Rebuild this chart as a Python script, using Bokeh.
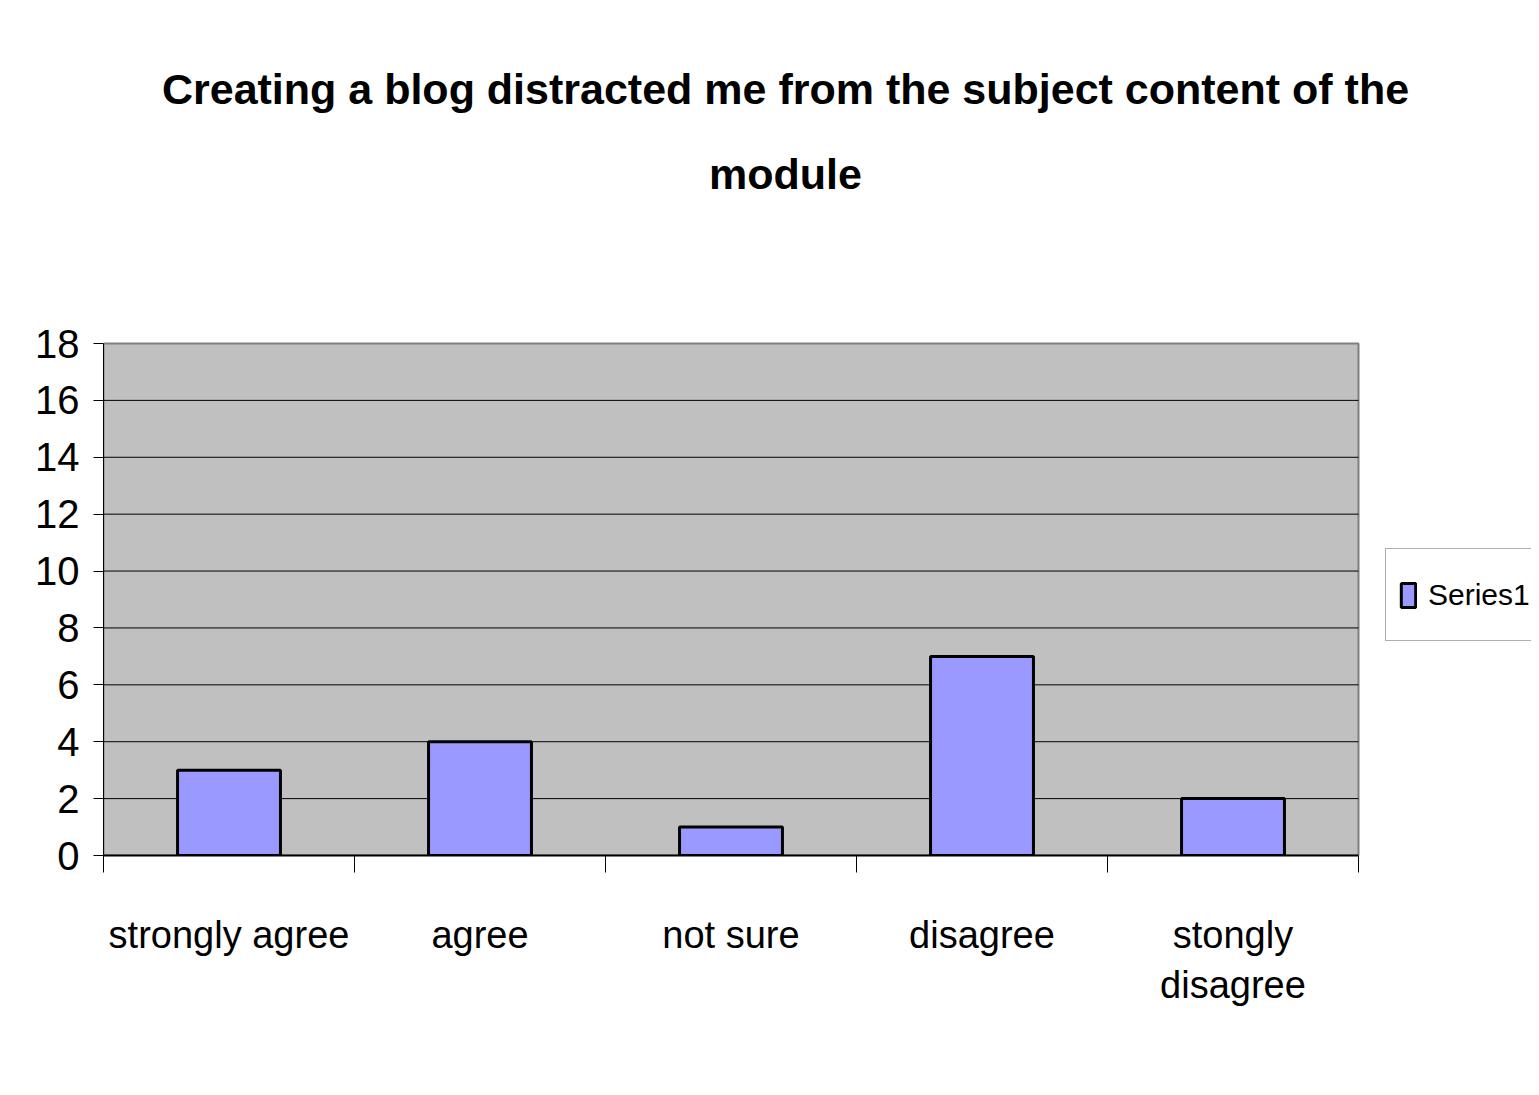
from bokeh.plotting import figure
from bokeh.models import (ColumnDataSource, FixedTicker, Range1d, Legend, LegendItem, Label)
from bokeh.embed import file_html
from bokeh.resources import INLINE

# ---- data ----
categories = ["strongly agree", "agree", "not sure", "disagree", "stongly\ndisagree"]
counts = [3, 4, 1, 7, 2]
y_ticks = [0, 2, 4, 6, 8, 10, 12, 14, 16, 18]
title_lines = ["Creating a blog distracted me from the subject content of the", "module"]
series_name = "Series1"

FONT = "Liberation Sans"
W, H = 1531, 1087
PLOT_LEFT, PLOT_RIGHT, PLOT_TOP, PLOT_BOTTOM = 103, 1358, 343, 855
n = len(categories)
y_max = y_ticks[-1]

# the frame covers everything right of the y axis and above the x axis, so that the
# title and the legend (outside the grey plot area) are drawn inside it
px_x = (PLOT_RIGHT - PLOT_LEFT) / n
px_y = (PLOT_BOTTOM - PLOT_TOP) / y_max
x_end = (W - PLOT_LEFT) / px_x
y_end = PLOT_BOTTOM / px_y

p = figure(width=W, height=H, output_backend="svg", toolbar_location=None,
           x_range=Range1d(0, x_end), y_range=Range1d(0, y_end),
           min_border_left=PLOT_LEFT, min_border_right=0,
           min_border_top=0, min_border_bottom=H - PLOT_BOTTOM)
p.background_fill_color = "white"
p.border_fill_color = "white"
p.outline_line_color = None

# grey plot area
p.quad(left=[0], right=[n], bottom=[0], top=[y_max],
       fill_color="#C0C0C0", line_color="#808080", line_width=2)
# horizontal gridlines across the plot area
inner = y_ticks[1:-1]
p.segment(x0=[0] * len(inner), x1=[n] * len(inner), y0=inner, y1=inner,
          line_color="black", line_width=1)

xs = [i + 0.5 for i in range(n)]
src = ColumnDataSource(dict(x=xs, top=counts))
r = p.vbar(x="x", top="top", bottom=0, width=0.41, source=src,
           fill_color="#9999FF", line_color="black", line_width=3)

p.xgrid.grid_line_color = None
p.ygrid.grid_line_color = None

# y axis
p.yaxis.bounds = (0, y_max)
p.yaxis.ticker = FixedTicker(ticks=y_ticks)
p.yaxis.axis_line_color = "black"
p.yaxis.major_tick_in = 0
p.yaxis.major_tick_out = 10
p.yaxis.minor_tick_line_color = None
p.yaxis.major_label_standoff = 14
p.yaxis.major_label_text_font = FONT
p.yaxis.major_label_text_font_size = "40px"
p.yaxis.major_label_text_color = "black"

# x axis: labels at category centres, minor ticks at category boundaries
p.xaxis.bounds = (0, n)
p.xaxis.ticker = FixedTicker(ticks=xs, minor_ticks=list(range(n + 1)))
p.xaxis.major_label_overrides = {x: c for x, c in zip(xs, categories)}
p.xaxis.major_tick_line_color = None
p.xaxis.major_tick_in = 0
p.xaxis.major_tick_out = 0
p.xaxis.minor_tick_in = 0
p.xaxis.minor_tick_out = 17
p.xaxis.minor_tick_line_color = "black"
p.xaxis.major_label_standoff = 41
p.xaxis.major_label_text_font = FONT
p.xaxis.major_label_text_font_size = "38px"
p.xaxis.major_label_text_color = "black"
p.xaxis.axis_line_color = "black"
p.xaxis.axis_line_width = 2

# title: two centred lines
title_cx = (785 - PLOT_LEFT) / px_x
for line, cy in zip(title_lines, [88, 173]):
    p.add_layout(Label(x=title_cx, y=(PLOT_BOTTOM - cy) / px_y, text=line,
                       text_align="center", text_baseline="middle",
                       text_font=FONT, text_font_size="43px", text_font_style="bold",
                       text_color="black"))

legend = Legend(items=[LegendItem(label=series_name, renderers=[r])],
                location=(1385 - PLOT_LEFT, PLOT_BOTTOM - 641), orientation="vertical",
                label_text_font=FONT, label_text_font_size="30px",
                label_text_color="black",
                glyph_width=18, glyph_height=30, label_height=65,
                padding=13, spacing=0, margin=0,
                border_line_color="#606060", border_line_width=1,
                background_fill_color="white", background_fill_alpha=1.0,
                label_standoff=11)
p.add_layout(legend, "center")

open("out.html", "w").write(file_html(p, INLINE))
